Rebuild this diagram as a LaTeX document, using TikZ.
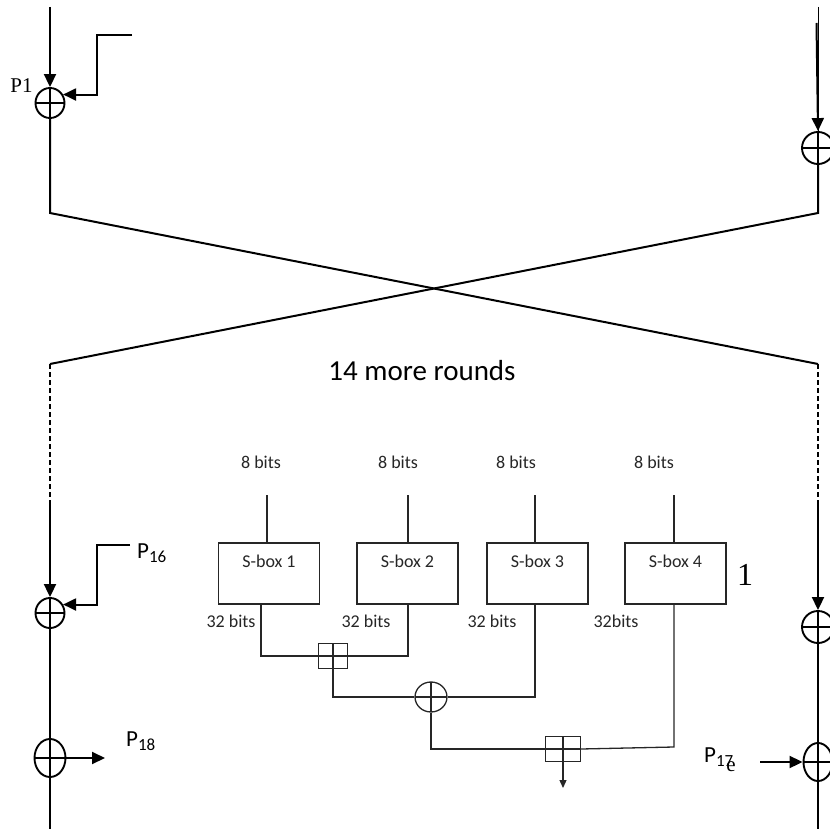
\documentclass[tikz,border=0pt]{standalone}
\usepackage{fontspec}
\setmainfont{Carlito}
\newfontfamily\serifp{Liberation Serif}
\usetikzlibrary{arrows.meta,shapes.geometric}

\begin{document}
\begin{tikzpicture}[x=1pt, y=-1pt, >={Triangle[length=13pt,width=12pt]},
  wire/.style={line width=2pt},
  fine/.style={line width=1.3pt, draw=black!85},
  xorop/.style 2 args={draw, ellipse, line width=1.9pt, inner sep=0pt,
    minimum width=#1, minimum height=#2,
    path picture={\draw (path picture bounding box.north) -- (path picture bounding box.south)
      (path picture bounding box.west) -- (path picture bounding box.east);}},
  addop/.style 2 args={draw, rectangle, fine, inner sep=0pt,
    minimum width=#1, minimum height=#2,
    path picture={\draw (path picture bounding box.north) -- (path picture bounding box.south)
      (path picture bounding box.west) -- (path picture bounding box.east);}},
  sbox/.style={draw, fine, minimum width=101pt, minimum height=61pt, inner sep=0pt},
  lbl/.style={font=\fontsize{18}{18}\selectfont, text=black!85, inner sep=0pt},
  pkey/.style={font=\fontsize{23}{23}\selectfont, inner sep=0pt}]
\useasboundingbox (0,0) rectangle (830,829);

\coordinate (tl) at (50,7);
\coordinate (tr) at (818,7);
\coordinate (tr2) at (816.5,23);
\coordinate (lb1) at (50,213);
\coordinate (rb1) at (818,213);
\coordinate (lb2) at (50,364);
\coordinate (rb2) at (818,364);
\coordinate (ld) at (50,500);
\coordinate (rd) at (818,500);
\coordinate (lend) at (50,829);
\coordinate (rend) at (818,829);

\node[xorop={29pt}{30pt}] (x1) at (50,103) {};
\node[xorop={32pt}{32pt}] (x2) at (818,148) {};
\node[xorop={29pt}{30pt}] (x3) at (50,613) {};
\node[xorop={32pt}{32pt}] (x4) at (818,627) {};
\node[xorop={31pt}{38pt}] (x5) at (50,758) {};
\node[xorop={29pt}{38pt}] (x6) at (818,762) {};

\draw[wire,->] (tl) -- (x1.north);
\draw[wire] (x1.south) -- (lb1) -- (rb2);
\draw[line width=1pt] (tr) -- (x2.north);
\draw[wire,->] (tr2) -- (x2.north);
\draw[wire] (x2.south) -- (rb1) -- (lb2);
\draw[line width=2.6pt, dash pattern=on 5pt off 3pt] (lb2) -- (ld);
\draw[line width=2.6pt, dash pattern=on 5pt off 3pt] (rb2) -- (rd);
\draw[wire,->] (ld) -- (x3.north);
\draw[wire,->] (rd) -- (x4.north);
\draw[wire] (x3.south) -- (x5.north) (x5.south) -- (lend);
\draw[wire] (x4.south) -- (x6.north) (x6.south) -- (rend);

\coordinate (p1in) at (132,35);
\coordinate (k1) at (97,35);
\draw[wire,->] (p1in) -- (k1) |- (x1.33);
\coordinate (p16in) at (130,545);
\coordinate (k3) at (97,545);
\draw[wire,->] (p16in) -- (k3) |- (x3.33);
\coordinate (p18out) at (105,758);
\draw[wire,->] (x5.east) -- (p18out);
\coordinate (p17in) at (760,762);
\draw[wire,->] (p17in) -- (x6.west);

\node[pkey, font=\serifp\fontsize{21}{21}\selectfont] (p1) at (21.5,86) {P1};
\node[pkey, anchor=west] (p16) at (137,553) {P\raisebox{-4pt}{\fontsize{17}{17}\selectfont 16}};
\node[pkey, anchor=west] (p18) at (126,741) {P\raisebox{-4pt}{\fontsize{17}{17}\selectfont 18}};
\node[pkey, anchor=west] (p17) at (704,757) {P\raisebox{-4pt}{\fontsize{17}{17}\selectfont 17}};
\node[inner sep=0pt, font=\serifp\fontsize{21}{21}\selectfont] (e17) at (731,767) {e};
\node[inner sep=0pt, font=\serifp\fontsize{32}{32}\selectfont] (one) at (745,575) {1};

\node[inner sep=0pt, font=\fontsize{29}{29}\selectfont] (more) at (422,371) {14 more rounds};

\foreach \n/\x in {1/261, 2/398, 3/516, 4/654}
  \node[lbl] (b\n) at (\x,462) {8 bits};
\foreach \n/\x in {1/269, 2/407.5, 3/537.5, 4/675.5}
  \node[sbox, label={[lbl, anchor=center, yshift=-19pt]north:S-box \n}] (s\n) at (\x,573.5) {};
\foreach \n/\x in {1/267, 2/408, 3/535, 4/674}{
  \coordinate (i\n) at (\x,495);
  \draw[fine] (i\n) -- (i\n |- s\n.north);
}
\foreach \n/\x/\t in {1/231/32 bits, 2/366/32 bits, 3/492/32 bits, 4/616/32bits}
  \node[lbl] (c\n) at (\x,621) {\t};

\coordinate (o1) at (261,656);
\coordinate (o2) at (408,656);
\coordinate (o3) at (535,697);
\coordinate (o4) at (674,747);
\coordinate (out) at (563,788);
\node[addop={29pt}{25pt}] (a1) at (333,656) {};
\node[xorop={32pt}{30pt}, fine] (xc) at (431,697) {};
\node[addop={35pt}{25pt}] (a2) at (563,749) {};
\draw[fine] (o1 |- s1.south) -- (o1) -- (a1.west);
\draw[fine] (o2 |- s2.south) -- (o2) -- (a1.east);
\draw[fine] (a1.south) |- (xc.west);
\draw[fine] (o3 |- s3.south) -- (o3) -- (xc.east);
\draw[fine] (xc.south) |- (a2.west);
\draw[fine] (o4 |- s4.south) -- (o4) -- (a2.east);
\draw[fine, -{Triangle[length=8pt,width=7pt]}] (a2.south) -- (out);
\end{tikzpicture}
\end{document}
